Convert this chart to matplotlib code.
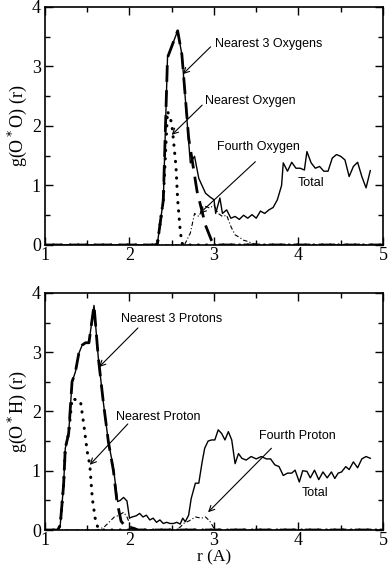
import matplotlib
matplotlib.use("Agg")
import matplotlib.pyplot as plt
from matplotlib.ticker import MultipleLocator

# ---------------- Top panel: g(O*O) ----------------
oo_total_r = [1.0, 2.30, 2.33, 2.40, 2.45, 2.57, 2.62, 2.72, 2.77, 2.82, 2.90, 2.95, 3.00, 3.02, 3.07,
              3.10, 3.15, 3.20, 3.25, 3.30, 3.35, 3.40, 3.45, 3.50, 3.55, 3.60, 3.65, 3.70, 3.75,
              3.80, 3.82, 3.87, 3.92, 3.97, 4.02, 4.07, 4.10, 4.15, 4.20, 4.25, 4.30, 4.35, 4.40,
              4.45, 4.50, 4.55, 4.60, 4.65, 4.70, 4.75, 4.80, 4.85]
oo_total_g = [0.0, 0.0, 0.02, 0.75, 3.15, 3.60, 3.20, 1.38, 1.49, 1.12, 0.87, 0.81, 0.76, 0.53, 0.79,
              0.53, 0.59, 0.45, 0.48, 0.43, 0.50, 0.45, 0.51, 0.45, 0.57, 0.53, 0.59, 0.63, 0.76,
              1.00, 1.38, 1.24, 1.39, 1.29, 1.29, 1.26, 1.57, 1.38, 1.29, 1.32, 1.24, 1.24, 1.46,
              1.52, 1.49, 1.43, 1.15, 1.32, 1.39, 1.15, 0.96, 1.25]

oo_near3_r = [1.0, 2.30, 2.33, 2.40, 2.45, 2.57, 2.62, 2.70, 2.80, 2.90, 2.97, 3.00, 3.05, 5.0]
oo_near3_g = [0.0, 0.0, 0.02, 0.75, 3.15, 3.60, 3.20, 1.80, 0.90, 0.33, 0.08, 0.02, 0.0, 0.0]

oo_near1_r = [1.0, 2.30, 2.33, 2.40, 2.45, 2.50, 2.52, 2.55, 2.57, 2.60, 2.62, 2.65, 5.0]
oo_near1_g = [0.0, 0.0, 0.02, 0.75, 2.25, 2.05, 1.77, 1.32, 0.76, 0.25, 0.03, 0.0, 0.0]

oo_fourth_r = [1.0, 2.65, 2.72, 2.77, 2.82, 2.87, 2.90, 2.95, 3.00, 3.05, 3.10, 3.15, 3.20, 3.25,
               3.30, 3.35, 3.40, 3.45, 3.50, 3.55, 5.0]
oo_fourth_g = [0.0, 0.0, 0.20, 0.53, 0.48, 0.62, 0.65, 0.62, 0.67, 0.53, 0.48, 0.50, 0.31, 0.17,
               0.13, 0.08, 0.06, 0.03, 0.01, 0.0, 0.0]

# ---------------- Bottom panel: g(O*H) ----------------
oh_total_r = [1.0, 1.15, 1.18, 1.22, 1.24, 1.28, 1.32, 1.36, 1.40, 1.44, 1.48, 1.52, 1.58, 1.63,
              1.69, 1.75, 1.81, 1.86, 1.89, 1.93, 1.97, 2.00, 2.03, 2.08, 2.12, 2.16, 2.20, 2.24,
              2.28, 2.32, 2.36, 2.40, 2.44, 2.48, 2.52, 2.56, 2.60, 2.63, 2.66, 2.70, 2.73, 2.78,
              2.82, 2.86, 2.89, 2.93, 2.97, 3.01, 3.05, 3.09, 3.13, 3.17, 3.21, 3.25, 3.29, 3.33,
              3.38, 3.44, 3.50, 3.56, 3.62, 3.67, 3.72, 3.77, 3.82, 3.87, 3.92, 3.96, 4.01, 4.05,
              4.10, 4.14, 4.19, 4.24, 4.29, 4.34, 4.39, 4.43, 4.47, 4.51, 4.56, 4.60, 4.65, 4.70,
              4.75, 4.80, 4.85]
oh_total_g = [0.0, 0.0, 0.08, 0.76, 1.38, 1.63, 2.50, 2.67, 2.98, 3.12, 3.16, 3.16, 3.79, 2.92,
              2.16, 1.49, 1.04, 0.48, 0.50, 0.55, 0.49, 0.20, 0.22, 0.24, 0.28, 0.22, 0.25, 0.17,
              0.20, 0.13, 0.17, 0.11, 0.13, 0.11, 0.11, 0.13, 0.10, 0.20, 0.14, 0.25, 0.53, 0.79,
              0.79, 1.15, 1.38, 1.50, 1.52, 1.52, 1.69, 1.63, 1.52, 1.66, 1.52, 1.12, 1.29, 1.21,
              1.18, 1.24, 1.20, 1.24, 1.20, 1.20, 1.10, 1.07, 0.92, 0.96, 0.96, 1.01, 0.81, 1.00,
              0.99, 0.88, 1.01, 0.85, 0.98, 0.88, 0.98, 0.87, 0.96, 0.98, 1.07, 1.02, 1.15, 1.05,
              1.20, 1.24, 1.21]

oh_near3_r = [1.0, 1.15, 1.18, 1.22, 1.24, 1.28, 1.32, 1.36, 1.40, 1.44, 1.48, 1.52, 1.58, 1.63,
              1.69, 1.75, 1.81, 1.85, 1.90, 1.95, 2.00, 2.05, 2.10, 5.0]
oh_near3_g = [0.0, 0.0, 0.08, 0.76, 1.38, 1.63, 2.50, 2.67, 2.98, 3.12, 3.16, 3.16, 3.79, 2.92,
              2.16, 1.49, 1.00, 0.50, 0.15, 0.06, 0.04, 0.03, 0.0, 0.0]

oh_near1_r = [1.0, 1.15, 1.18, 1.22, 1.24, 1.28, 1.32, 1.36, 1.42, 1.46, 1.50, 1.53, 1.56, 1.60,
              1.63, 1.66, 5.0]
oh_near1_g = [0.0, 0.0, 0.08, 0.76, 1.38, 1.63, 2.22, 2.20, 2.17, 1.77, 1.32, 1.10, 0.53, 0.14,
              0.03, 0.0, 0.0]

oh_fourth_r = [1.0, 1.62, 1.70, 1.75, 1.82, 1.88, 1.93, 1.97, 2.02, 2.10, 2.55, 2.60, 2.65, 2.70,
               2.78, 2.85, 2.90, 2.95, 2.98, 3.01, 5.0]
oh_fourth_g = [0.0, 0.0, 0.05, 0.12, 0.22, 0.25, 0.30, 0.22, 0.05, 0.01, 0.0, 0.05, 0.12, 0.15,
               0.22, 0.20, 0.22, 0.15, 0.08, 0.0, 0.0]

x_ticks = [1, 2, 3, 4, 5]
y_ticks = [0, 1, 2, 3, 4]

serif = ["Liberation Serif", "DejaVu Serif"]
sans = ["Liberation Sans", "DejaVu Sans"]

fig = plt.figure(figsize=(3.88, 5.72), dpi=100)
ax1 = fig.add_axes([0.116, 0.5717, 0.871, 0.4161])
ax2 = fig.add_axes([0.116, 0.0734, 0.871, 0.4144])


def style(ax, ylabel, xlabel=None):
    ax.set_xlim(1, 5)
    ax.set_ylim(0, 4)
    ax.set_xticks(x_ticks)
    ax.set_yticks(y_ticks)
    ax.xaxis.set_minor_locator(MultipleLocator(0.5))
    ax.yaxis.set_minor_locator(MultipleLocator(0.5))
    ax.tick_params(which="both", direction="in", top=True, right=True, width=1.0)
    ax.tick_params(which="major", length=6, labelsize=13)
    ax.tick_params(axis="x", which="major", pad=1.5)
    ax.tick_params(axis="y", which="major", pad=3)
    ax.tick_params(which="minor", length=3.5)
    for lab in ax.get_xticklabels() + ax.get_yticklabels():
        lab.set_fontfamily(serif)
    for s in ax.spines.values():
        s.set_linewidth(1.2)
    ax.set_ylabel(ylabel, fontsize=13, family=serif, labelpad=2)
    if xlabel:
        ax.set_xlabel(xlabel, fontsize=12.5, family=serif, labelpad=0)


def draw(ax, tr, tg, n3r, n3g, n1r, n1g, fr, fg):
    ax.plot(tr, tg, color="black", lw=1.0)
    ax.plot(n3r, n3g, color="black", lw=2.0, dashes=(6, 3))
    ax.plot(n1r, n1g, color="black", lw=2.2, linestyle=(0, (0.1, 2.6)), dash_capstyle="round")
    ax.plot(fr, fg, color="black", lw=0.8, dashes=(4, 2, 1, 2))


draw(ax1, oo_total_r, oo_total_g, oo_near3_r, oo_near3_g, oo_near1_r, oo_near1_g,
     oo_fourth_r, oo_fourth_g)
draw(ax2, oh_total_r, oh_total_g, oh_near3_r, oh_near3_g, oh_near1_r, oh_near1_g,
     oh_fourth_r, oh_fourth_g)

style(ax1, "g(O$^*$O) (r)")
style(ax2, "g(O$^*$H) (r)", "r (A)")

arrow = dict(arrowstyle="->", color="black", lw=0.8, shrinkA=0, shrinkB=0)
fs = 9

ax1.annotate("", xy=(2.63, 2.87), xytext=(2.96, 3.33), arrowprops=arrow)
ax1.text(3.01, 3.38, "Nearest 3 Oxygens", fontsize=fs, family=sans, va="center", ha="left")
ax1.annotate("", xy=(2.50, 1.85), xytext=(2.86, 2.35), arrowprops=arrow)
ax1.text(2.89, 2.42, "Nearest Oxygen", fontsize=fs, family=sans, va="center", ha="left")
ax1.annotate("", xy=(2.83, 0.53), xytext=(3.49, 1.40), arrowprops=arrow)
ax1.text(3.03, 1.65, "Fourth Oxygen", fontsize=fs, family=sans, va="center", ha="left")
ax1.text(3.99, 1.04, "Total", fontsize=fs, family=sans, va="center", ha="left")

ax2.annotate("", xy=(1.64, 2.75), xytext=(2.10, 3.41), arrowprops=arrow)
ax2.text(1.90, 3.56, "Nearest 3 Protons", fontsize=fs, family=sans, va="center", ha="left")
ax2.annotate("", xy=(1.53, 1.10), xytext=(1.98, 1.79), arrowprops=arrow)
ax2.text(1.84, 1.91, "Nearest Proton", fontsize=fs, family=sans, va="center", ha="left")
ax2.annotate("", xy=(2.93, 0.30), xytext=(3.68, 1.38), arrowprops=arrow)
ax2.text(3.53, 1.59, "Fourth Proton", fontsize=fs, family=sans, va="center", ha="left")
ax2.text(4.04, 0.62, "Total", fontsize=fs, family=sans, va="center", ha="left")

fig.savefig("out.png", dpi=100)
